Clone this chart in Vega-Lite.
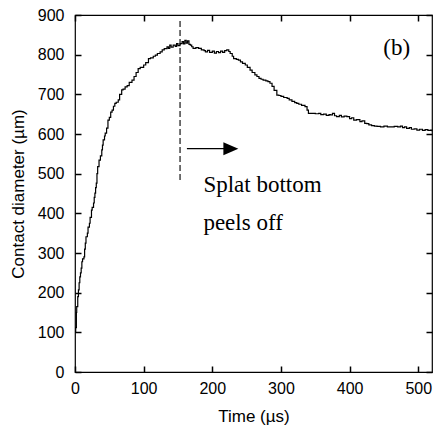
{
  "$schema": "https://vega.github.io/schema/vega-lite/v6.json",
  "width": 357,
  "height": 357,
  "autosize": {"type": "none"},
  "padding": {"left": 75, "top": 15, "right": 3, "bottom": 54},
  "background": "white",
  "config": {
    "view": {"stroke": "black", "strokeWidth": 1.2},
    "axis": {
      "domain": false, "grid": false, "ticks": true, "tickColor": "#000000", "tickSize": 6, "tickWidth": 1.5, "tickOpacity": 1, "offset": -6, "zindex": 2,
      "labelFlush": false, "labelOverlap": false,
      "labelFont": "Liberation Sans", "labelFontSize": 16, "labelColor": "black",
      "titleFont": "Liberation Sans", "titleFontSize": 17, "titleFontWeight": "normal", "titleColor": "black"
    }
  },
  "resolve": {"axis": {"x": "independent", "y": "independent"}},
  "datasets": {
    "curve": [
      {"t": 0, "d": 100}, {"t": 1, "d": 112}, {"t": 2, "d": 150}, {"t": 2.5, "d": 165}, {"t": 4, "d": 190},
      {"t": 5, "d": 207}, {"t": 6, "d": 225}, {"t": 7, "d": 240}, {"t": 8, "d": 250}, {"t": 9, "d": 262},
      {"t": 10, "d": 278}, {"t": 11, "d": 285}, {"t": 13, "d": 290}, {"t": 14, "d": 310}, {"t": 15, "d": 325},
      {"t": 16, "d": 341}, {"t": 18, "d": 350}, {"t": 19, "d": 365}, {"t": 21, "d": 375}, {"t": 22, "d": 390},
      {"t": 24, "d": 408}, {"t": 25, "d": 415}, {"t": 27, "d": 426}, {"t": 28, "d": 440}, {"t": 29, "d": 451},
      {"t": 30, "d": 465}, {"t": 31, "d": 476}, {"t": 32, "d": 500}, {"t": 33, "d": 518}, {"t": 35, "d": 534},
      {"t": 37, "d": 545}, {"t": 39, "d": 560}, {"t": 40, "d": 572}, {"t": 41, "d": 585}, {"t": 43, "d": 595},
      {"t": 44, "d": 602}, {"t": 46, "d": 615}, {"t": 48, "d": 635}, {"t": 50, "d": 642}, {"t": 52, "d": 655},
      {"t": 54, "d": 660}, {"t": 56, "d": 670}, {"t": 58, "d": 677}, {"t": 60, "d": 680}, {"t": 63, "d": 686},
      {"t": 65, "d": 700}, {"t": 68, "d": 711}, {"t": 70, "d": 713}, {"t": 73, "d": 719}, {"t": 76, "d": 722},
      {"t": 79, "d": 730}, {"t": 83, "d": 736}, {"t": 86, "d": 745}, {"t": 89, "d": 755}, {"t": 92, "d": 765},
      {"t": 95, "d": 768}, {"t": 100, "d": 774}, {"t": 103, "d": 780}, {"t": 107, "d": 790}, {"t": 110, "d": 792},
      {"t": 114, "d": 796}, {"t": 117, "d": 799}, {"t": 120, "d": 803}, {"t": 124, "d": 807}, {"t": 127, "d": 812},
      {"t": 130, "d": 815}, {"t": 134, "d": 820}, {"t": 136, "d": 816}, {"t": 138, "d": 824}, {"t": 140, "d": 819},
      {"t": 143, "d": 824}, {"t": 146, "d": 821}, {"t": 148, "d": 828}, {"t": 150, "d": 823}, {"t": 153, "d": 828},
      {"t": 156, "d": 833}, {"t": 158, "d": 827}, {"t": 160, "d": 836}, {"t": 162, "d": 829}, {"t": 164, "d": 835},
      {"t": 166, "d": 826}, {"t": 168, "d": 824}, {"t": 170, "d": 820}, {"t": 172, "d": 816}, {"t": 176, "d": 818},
      {"t": 180, "d": 816}, {"t": 184, "d": 812}, {"t": 188, "d": 810}, {"t": 190, "d": 807}, {"t": 193, "d": 811},
      {"t": 196, "d": 806}, {"t": 200, "d": 809}, {"t": 203, "d": 804}, {"t": 206, "d": 808}, {"t": 209, "d": 805},
      {"t": 212, "d": 809}, {"t": 215, "d": 806}, {"t": 218, "d": 810}, {"t": 221, "d": 812}, {"t": 224, "d": 808},
      {"t": 226, "d": 803}, {"t": 229, "d": 796}, {"t": 231, "d": 790}, {"t": 235, "d": 788}, {"t": 238, "d": 786},
      {"t": 241, "d": 782}, {"t": 244, "d": 778}, {"t": 248, "d": 774}, {"t": 251, "d": 768}, {"t": 255, "d": 761},
      {"t": 258, "d": 755}, {"t": 262, "d": 749}, {"t": 265, "d": 745}, {"t": 268, "d": 740}, {"t": 271, "d": 738},
      {"t": 274, "d": 736}, {"t": 278, "d": 734}, {"t": 281, "d": 732}, {"t": 284, "d": 728}, {"t": 287, "d": 720},
      {"t": 290, "d": 710}, {"t": 294, "d": 698}, {"t": 297, "d": 697}, {"t": 300, "d": 695}, {"t": 304, "d": 692},
      {"t": 309, "d": 690}, {"t": 312, "d": 686}, {"t": 316, "d": 682}, {"t": 320, "d": 679}, {"t": 323, "d": 677},
      {"t": 326, "d": 675}, {"t": 330, "d": 672}, {"t": 335, "d": 669}, {"t": 338, "d": 660}, {"t": 340, "d": 652},
      {"t": 345, "d": 652}, {"t": 350, "d": 651}, {"t": 355, "d": 652}, {"t": 358, "d": 649}, {"t": 362, "d": 650},
      {"t": 366, "d": 647}, {"t": 370, "d": 649}, {"t": 372, "d": 648}, {"t": 375, "d": 652}, {"t": 378, "d": 646},
      {"t": 381, "d": 644}, {"t": 385, "d": 647}, {"t": 388, "d": 643}, {"t": 392, "d": 645}, {"t": 396, "d": 644},
      {"t": 400, "d": 639}, {"t": 403, "d": 641}, {"t": 406, "d": 635}, {"t": 410, "d": 636}, {"t": 415, "d": 631},
      {"t": 418, "d": 633}, {"t": 422, "d": 627}, {"t": 425, "d": 626}, {"t": 428, "d": 623}, {"t": 432, "d": 621},
      {"t": 436, "d": 620}, {"t": 440, "d": 619}, {"t": 445, "d": 618}, {"t": 450, "d": 620}, {"t": 455, "d": 618},
      {"t": 460, "d": 618}, {"t": 465, "d": 619}, {"t": 470, "d": 618}, {"t": 474, "d": 620}, {"t": 477, "d": 616},
      {"t": 480, "d": 618}, {"t": 483, "d": 614}, {"t": 487, "d": 616}, {"t": 490, "d": 612}, {"t": 494, "d": 613},
      {"t": 498, "d": 610}, {"t": 502, "d": 612}, {"t": 506, "d": 609}, {"t": 510, "d": 611}, {"t": 514, "d": 609},
      {"t": 518, "d": 610}, {"t": 520, "d": 607}
    ],
    "marker": [{"t": 153, "d1": 484, "d2": 885}],
    "arrow": [{"t1": 163, "t2": 221, "d": 563}],
    "head": [{"t": 227, "d": 563}],
    "notes": [
      {"t": 187, "d": 454, "label": "Splat bottom"},
      {"t": 187, "d": 359, "label": "peels off"},
      {"t": 449, "d": 799, "label": "(b)"}
    ]
  },
  "layer": [
    {
      "data": {"name": "curve"},
      "mark": {"type": "line", "interpolate": "step-after", "color": "black", "strokeWidth": 1.2},
      "encoding": {
        "x": {"field": "t", "type": "quantitative",
              "scale": {"domain": [0, 520], "nice": false, "zero": false},
              "axis": {"orient": "bottom", "title": "Time (µs)", "values": [0, 100, 200, 300, 400, 500], "labelPadding": 8, "titlePadding": 12}},
        "y": {"field": "d", "type": "quantitative",
              "scale": {"domain": [0, 900], "nice": false},
              "axis": {"orient": "left", "title": "Contact diameter (µm)", "values": [0, 100, 200, 300, 400, 500, 600, 700, 800, 900], "labelPadding": 11, "titlePadding": 10}}
      }
    },
    {
      "data": {"name": "marker"},
      "mark": {"type": "rule", "color": "black", "strokeWidth": 1.1, "strokeDash": [6, 3]},
      "encoding": {
        "x": {"field": "t", "type": "quantitative",
              "axis": {"orient": "top", "labels": false, "title": null, "values": [0, 100, 200, 300, 400, 500]}},
        "y": {"field": "d1", "type": "quantitative",
              "axis": {"orient": "right", "labels": false, "title": null, "values": [0, 100, 200, 300, 400, 500, 600, 700, 800, 900]}},
        "y2": {"field": "d2"}
      }
    },
    {
      "data": {"name": "arrow"},
      "mark": {"type": "rule", "color": "black", "strokeWidth": 1.3},
      "encoding": {
        "x": {"field": "t1", "type": "quantitative", "axis": null},
        "x2": {"field": "t2"},
        "y": {"field": "d", "type": "quantitative", "axis": null}
      }
    },
    {
      "data": {"name": "head"},
      "mark": {"type": "point", "shape": "M -1 -0.87 L 1 0 L -1 0.87 Z", "filled": true, "color": "black", "size": 225, "opacity": 1},
      "encoding": {
        "x": {"field": "t", "type": "quantitative", "axis": null},
        "y": {"field": "d", "type": "quantitative", "axis": null}
      }
    },
    {
      "data": {"name": "notes"},
      "mark": {"type": "text", "font": "Liberation Serif", "fontSize": 23, "align": "left", "baseline": "alphabetic", "color": "black"},
      "encoding": {
        "x": {"field": "t", "type": "quantitative", "axis": null},
        "y": {"field": "d", "type": "quantitative", "axis": null},
        "text": {"field": "label"}
      }
    }
  ]
}
